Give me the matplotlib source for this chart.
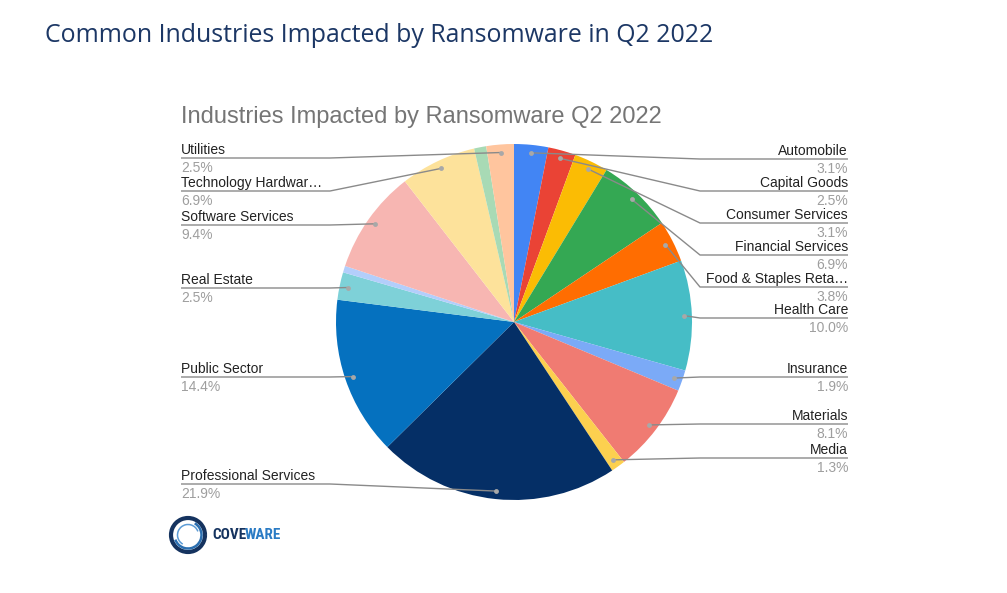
import matplotlib
matplotlib.use("Agg")
import matplotlib.pyplot as plt
import numpy as np
from matplotlib.patches import Arc
from matplotlib import font_manager

# ---------------- data ----------------
categories = ["Automobile", "Capital Goods", "Consumer Services", "Financial Services",
              "Food & Staples Retailing", "Health Care", "Insurance", "Materials", "Media",
              "Professional Services", "Public Sector", "Real Estate", "Retailing",
              "Software Services", "Technology Hardware & Equipment",
              "Telecommunication Services", "Utilities"]
display_labels = ["Automobile", "Capital Goods", "Consumer Services", "Financial Services",
                  "Food & Staples Reta\u2026", "Health Care", "Insurance", "Materials", "Media",
                  "Professional Services", "Public Sector", "Real Estate", "",
                  "Software Services", "Technology Hardwar\u2026", "", "Utilities"]
values = [3.1, 2.5, 3.1, 6.9, 3.8, 10.0, 1.9, 8.1, 1.3, 21.9, 14.4, 2.5, 0.6, 9.4, 6.9, 1.1, 2.5]
pct_labels = ["3.1%", "2.5%", "3.1%", "6.9%", "3.8%", "10.0%", "1.9%", "8.1%", "1.3%",
              "21.9%", "14.4%", "2.5%", "", "9.4%", "6.9%", "", "2.5%"]

# ---------------- style / layout ----------------
colors = ["#4285F4", "#EA4335", "#FBBC04", "#34A853", "#FF6D01", "#46BDC6", "#7BAAF7",
          "#F07B72", "#FCD04F", "#052F66", "#0571BF", "#7ED1D8", "#B3CEFB", "#F7B6B2",
          "#FDE29B", "#A8DAB5", "#FFC59E"]
side = ["R", "R", "R", "R", "R", "R", "R", "R", "R", "L", "L", "L", None, "L", "L", None, "L"]
# y (image pixels, from top) of each leader line's horizontal segment
line_y = [159, 191, 223, 255, 287, 318, 377, 424, 458, 484, 377, 288, None, 225, 191, None, 158]

W, H = 1007, 593
CX, CY, R = 514, 322, 178
DOT_R = 170
RIGHT_EDGE, RIGHT_ELBOW = 848, 700
LEFT_EDGE, LEFT_ELBOW = 181, 330

fig = plt.figure(figsize=(W / 100, H / 100), dpi=100)
ax = fig.add_axes([0, 0, 1, 1])

def Y(y):
    return H - y

wedges, _ = ax.pie(values, colors=colors, startangle=90, counterclock=False,
                   radius=R, center=(CX, Y(CY)),
                   wedgeprops=dict(linewidth=0, antialiased=True))

ax.set_xlim(0, W)
ax.set_ylim(0, H)
ax.set_aspect("auto")
ax.axis("off")

line_col = "#8a8a8a"
name_col = "#222222"
pct_col = "#9e9e9e"
lab_font = "Liberation Sans"

for w, s, ly, name, pct in zip(wedges, side, line_y, display_labels, pct_labels):
    if s is None:
        continue
    mid = np.deg2rad((w.theta1 + w.theta2) / 2)
    dx = CX + DOT_R * np.cos(mid)
    dy = Y(CY) + DOT_R * np.sin(mid)
    yl = Y(ly)
    if s == "R":
        xs = [dx, max(RIGHT_ELBOW, dx), RIGHT_EDGE]
        tx, ha = RIGHT_EDGE, "right"
    else:
        xs = [dx, min(LEFT_ELBOW, dx), LEFT_EDGE]
        tx, ha = LEFT_EDGE, "left"
    ax.plot(xs, [dy, yl, yl], color=line_col, lw=1.0, solid_capstyle="butt", zorder=3)
    ax.plot([dx], [dy], "o", ms=3.5, color="#a8a8a8", mec="none", zorder=4)
    ax.text(tx, yl + 4, name, ha=ha, va="baseline", fontsize=10, color=name_col,
            family=lab_font)
    ax.text(tx, yl - 3, pct, ha=ha, va="top", fontsize=10, color=pct_col,
            family=lab_font)

# titles
ax.text(45, Y(36), "Common Industries Impacted by Ransomware in Q2 2022", ha="left",
        va="center", fontsize=17.9, color="#1C3765", family="Open Sans")
ax.text(181, Y(117), "Industries Impacted by Ransomware Q2 2022", ha="left",
        va="center", fontsize=17, color="#757575", family=lab_font)

# logo
lx, ly0 = 188, Y(535)
ax.add_patch(Arc((lx, ly0), 34, 34, theta1=0, theta2=360, color="#15335F", lw=3.0))
ax.add_patch(Arc((lx, ly0), 27, 27, theta1=200, theta2=60, color="#2B6FB0", lw=1.8))
ax.add_patch(Arc((lx, ly0), 21, 21, theta1=20, theta2=240, color="#5B9BD5", lw=1.1))

available = {f.name for f in font_manager.fontManager.ttflist}
logo_font, logo_size = "Roboto", 9.6
for cand in ["Roboto Condensed", "DejaVu Sans Condensed", "Liberation Sans Narrow"]:
    if cand in available:
        logo_font, logo_size = cand, 11.0
        break

t1 = ax.text(212, ly0, "COVE", ha="left", va="center", fontsize=logo_size, fontweight="bold",
             color="#15335F", family=[logo_font, "DejaVu Sans"])
fig.canvas.draw()
bb = t1.get_window_extent(renderer=fig.canvas.get_renderer())
x_end = ax.transData.inverted().transform((bb.x1, bb.y0))[0] - 1.2
ax.text(x_end, ly0, "WARE", ha="left", va="center", fontsize=logo_size, fontweight="bold",
        color="#2A7BC4", family=[logo_font, "DejaVu Sans"])

fig.savefig("out.png", dpi=100)
